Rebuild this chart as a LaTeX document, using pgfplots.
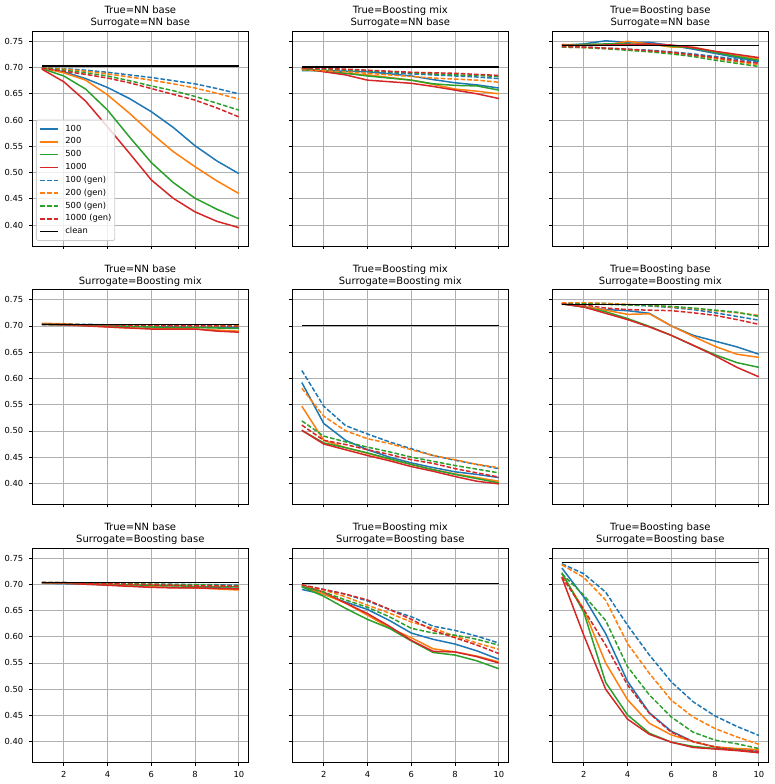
\documentclass[border=0pt]{standalone}
\usepackage{fontspec}
\setmainfont{DejaVu Sans}
\usepackage{pgfplots}
\usepackage{pgfplotstable}
\pgfplotsset{compat=1.18}
\definecolor{c0}{HTML}{1F77B4}
\definecolor{c1}{HTML}{FF7F0E}
\definecolor{c2}{HTML}{2CA02C}
\definecolor{c3}{HTML}{D62728}
\definecolor{gridgray}{HTML}{B0B0B0}
\definecolor{leggray}{HTML}{CCCCCC}

% True=NN base, Surrogate=NN base
\pgfplotstableread{
x s100 s200 s500 s1000 g100 g200 g500 g1000 clean
1 0.699 0.699 0.698 0.697 0.700 0.700 0.700 0.699 0.703
2 0.692 0.690 0.684 0.673 0.698 0.697 0.695 0.693 0.703
3 0.679 0.676 0.659 0.636 0.695 0.693 0.690 0.687 0.703
4 0.662 0.648 0.619 0.587 0.691 0.688 0.684 0.680 0.703
5 0.641 0.613 0.568 0.537 0.686 0.682 0.675 0.671 0.703
6 0.616 0.575 0.519 0.486 0.681 0.676 0.665 0.660 0.703
7 0.586 0.540 0.481 0.451 0.675 0.669 0.656 0.649 0.703
8 0.551 0.511 0.451 0.425 0.669 0.661 0.645 0.638 0.703
9 0.522 0.484 0.430 0.407 0.660 0.651 0.632 0.623 0.703
10 0.498 0.460 0.412 0.395 0.650 0.640 0.619 0.606 0.703
}\tA
% True=Boosting mix, Surrogate=NN base
\pgfplotstableread{
x s100 s200 s500 s1000 g100 g200 g500 g1000 clean
1 0.694 0.697 0.696 0.699 0.697 0.696 0.698 0.699 0.701
2 0.694 0.693 0.693 0.692 0.696 0.694 0.697 0.698 0.701
3 0.693 0.689 0.689 0.686 0.694 0.692 0.696 0.697 0.701
4 0.692 0.686 0.684 0.676 0.692 0.689 0.694 0.695 0.701
5 0.688 0.681 0.680 0.673 0.690 0.686 0.692 0.693 0.701
6 0.684 0.676 0.676 0.670 0.688 0.683 0.690 0.691 0.701
7 0.677 0.668 0.669 0.664 0.686 0.680 0.688 0.690 0.701
8 0.671 0.659 0.666 0.657 0.684 0.678 0.686 0.689 0.701
9 0.667 0.655 0.665 0.650 0.682 0.676 0.685 0.687 0.701
10 0.661 0.650 0.657 0.641 0.679 0.672 0.683 0.685 0.701
}\tB
% True=Boosting base, Surrogate=NN base
\pgfplotstableread{
x s100 s200 s500 s1000 g100 g200 g500 g1000 clean
1 0.742 0.744 0.743 0.743 0.740 0.739 0.739 0.740 0.742
2 0.745 0.743 0.744 0.742 0.739 0.738 0.738 0.739 0.742
3 0.751 0.743 0.745 0.743 0.737 0.736 0.736 0.737 0.742
4 0.748 0.750 0.745 0.744 0.735 0.734 0.733 0.735 0.742
5 0.748 0.745 0.744 0.745 0.733 0.731 0.730 0.732 0.742
6 0.742 0.739 0.741 0.743 0.730 0.728 0.726 0.729 0.742
7 0.735 0.739 0.737 0.738 0.726 0.723 0.721 0.724 0.742
8 0.727 0.730 0.729 0.731 0.721 0.717 0.714 0.719 0.742
9 0.719 0.723 0.721 0.725 0.716 0.711 0.708 0.713 0.742
10 0.712 0.717 0.714 0.719 0.710 0.705 0.702 0.708 0.742
}\tC
% True=NN base, Surrogate=Boosting mix
\pgfplotstableread{
x s100 s200 s500 s1000 g100 g200 g500 g1000 clean
1 0.703 0.705 0.703 0.703 0.703 0.703 0.703 0.703 0.703
2 0.702 0.704 0.702 0.702 0.703 0.703 0.703 0.703 0.703
3 0.701 0.701 0.701 0.700 0.703 0.702 0.702 0.702 0.703
4 0.700 0.698 0.700 0.698 0.702 0.702 0.702 0.702 0.703
5 0.699 0.696 0.699 0.696 0.702 0.702 0.701 0.701 0.703
6 0.698 0.695 0.698 0.694 0.702 0.701 0.701 0.701 0.703
7 0.698 0.695 0.697 0.694 0.701 0.701 0.701 0.700 0.703
8 0.697 0.694 0.697 0.694 0.701 0.701 0.700 0.700 0.703
9 0.697 0.692 0.696 0.690 0.701 0.700 0.700 0.700 0.703
10 0.697 0.690 0.695 0.688 0.700 0.700 0.699 0.699 0.703
}\tD
% True=Boosting mix, Surrogate=Boosting mix
\pgfplotstableread{
x s100 s200 s500 s1000 g100 g200 g500 g1000 clean
1 0.592 0.547 0.501 0.501 0.615 0.581 0.519 0.511 0.701
2 0.514 0.482 0.477 0.475 0.547 0.528 0.490 0.482 0.701
3 0.482 0.468 0.468 0.464 0.510 0.500 0.479 0.474 0.701
4 0.464 0.457 0.458 0.453 0.494 0.485 0.469 0.464 0.701
5 0.450 0.446 0.447 0.443 0.479 0.476 0.460 0.455 0.701
6 0.439 0.436 0.436 0.432 0.466 0.464 0.450 0.445 0.701
7 0.430 0.426 0.426 0.423 0.453 0.453 0.442 0.438 0.701
8 0.422 0.418 0.417 0.413 0.444 0.445 0.434 0.428 0.701
9 0.417 0.411 0.409 0.404 0.436 0.436 0.427 0.420 0.701
10 0.411 0.404 0.401 0.399 0.428 0.430 0.420 0.412 0.701
}\tE
% True=Boosting base, Surrogate=Boosting mix
\pgfplotstableread{
x s100 s200 s500 s1000 g100 g200 g500 g1000 clean
1 0.742 0.742 0.742 0.742 0.743 0.744 0.742 0.742 0.741
2 0.736 0.737 0.736 0.736 0.743 0.744 0.742 0.740 0.741
3 0.731 0.730 0.727 0.724 0.743 0.743 0.741 0.734 0.741
4 0.729 0.722 0.714 0.712 0.740 0.741 0.740 0.731 0.741
5 0.724 0.723 0.699 0.698 0.738 0.739 0.739 0.730 0.741
6 0.700 0.700 0.682 0.682 0.735 0.736 0.737 0.729 0.741
7 0.682 0.680 0.663 0.663 0.731 0.733 0.734 0.725 0.741
8 0.671 0.661 0.645 0.643 0.725 0.729 0.730 0.720 0.741
9 0.660 0.646 0.630 0.621 0.718 0.725 0.726 0.712 0.741
10 0.646 0.640 0.621 0.603 0.711 0.720 0.718 0.703 0.741
}\tF
% True=NN base, Surrogate=Boosting base
\pgfplotstableread{
x s100 s200 s500 s1000 g100 g200 g500 g1000 clean
1 0.702 0.703 0.703 0.703 0.703 0.703 0.703 0.703 0.703
2 0.701 0.702 0.702 0.702 0.703 0.703 0.703 0.703 0.703
3 0.700 0.701 0.701 0.700 0.702 0.702 0.702 0.702 0.703
4 0.699 0.699 0.700 0.698 0.702 0.701 0.702 0.701 0.703
5 0.697 0.697 0.699 0.696 0.701 0.700 0.701 0.700 0.703
6 0.695 0.695 0.698 0.694 0.700 0.700 0.700 0.699 0.703
7 0.694 0.694 0.697 0.693 0.700 0.699 0.699 0.698 0.703
8 0.693 0.693 0.696 0.693 0.699 0.698 0.699 0.697 0.703
9 0.693 0.691 0.695 0.692 0.699 0.697 0.698 0.697 0.703
10 0.692 0.689 0.695 0.691 0.698 0.697 0.697 0.696 0.703
}\tG
% True=Boosting mix, Surrogate=Boosting base
\pgfplotstableread{
x s100 s200 s500 s1000 g100 g200 g500 g1000 clean
1 0.690 0.696 0.695 0.698 0.697 0.698 0.695 0.699 0.701
2 0.681 0.681 0.677 0.685 0.690 0.689 0.685 0.690 0.701
3 0.666 0.664 0.654 0.664 0.681 0.676 0.670 0.681 0.701
4 0.652 0.641 0.633 0.644 0.668 0.660 0.656 0.670 0.701
5 0.631 0.617 0.616 0.620 0.652 0.645 0.638 0.652 0.701
6 0.607 0.598 0.592 0.593 0.638 0.628 0.616 0.633 0.701
7 0.595 0.577 0.570 0.572 0.620 0.616 0.607 0.612 0.701
8 0.586 0.571 0.565 0.571 0.612 0.601 0.603 0.598 0.701
9 0.573 0.563 0.554 0.562 0.601 0.588 0.595 0.584 0.701
10 0.557 0.552 0.539 0.550 0.588 0.576 0.584 0.568 0.701
}\tH
% True=Boosting base, Surrogate=Boosting base
\pgfplotstableread{
x s100 s200 s500 s1000 g100 g200 g500 g1000 clean
1 0.731 0.720 0.722 0.713 0.739 0.737 0.720 0.714 0.741
2 0.676 0.652 0.647 0.603 0.720 0.713 0.679 0.652 0.741
3 0.606 0.550 0.513 0.500 0.685 0.670 0.631 0.584 0.741
4 0.515 0.480 0.451 0.443 0.622 0.587 0.543 0.508 0.741
5 0.455 0.435 0.416 0.414 0.565 0.530 0.489 0.454 0.741
6 0.420 0.413 0.399 0.399 0.514 0.479 0.447 0.418 0.741
7 0.400 0.400 0.391 0.389 0.476 0.447 0.418 0.400 0.741
8 0.390 0.390 0.387 0.386 0.449 0.425 0.403 0.390 0.741
9 0.385 0.387 0.385 0.383 0.429 0.409 0.396 0.384 0.741
10 0.381 0.385 0.379 0.379 0.412 0.395 0.387 0.382 0.741
}\tI

\pgfplotsset{
  panel/.style={
    scale only axis, width=260pt, height=257.6pt,
    anchor=north west,
    xmin=0.55, xmax=10.45, ymin=0.360, ymax=0.769,
    xtick={2,4,6,8,10},
    ytick={0.40,0.45,0.50,0.55,0.60,0.65,0.70,0.75},
    tick pos=left, tick align=outside,
    major tick length=3.5pt,
    every tick/.style={black, line width=0.8pt},
    axis line style={black, line width=0.8pt},
    grid=major,
    major grid style={gridgray, line width=0.8pt},
    /pgf/number format/assume math mode=true,
    tick label style={font=\fontsize{10}{12}\selectfont},
    yticklabel style={xshift=-3.5pt, /pgf/number format/.cd, fixed, fixed zerofill, precision=2},
    xticklabel style={yshift=-3.5pt},
    scaled y ticks=false,
    title style={font=\fontsize{12}{14.4}\selectfont, align=center, at={(0.5,1)}, anchor=south, inner sep=0pt, yshift=-2pt},
  },
  noy/.style={yticklabels={}},
  nox/.style={xticklabels={}},
  sl/.style={line width=1.8pt, line join=round},
  dl/.style={line width=1.8pt, dash pattern=on 5.55pt off 2.4pt},
}

\newcommand\allplots[1]{%
  \addplot[c0, sl] table[x=x,y=s100]{#1};
  \addplot[c1, sl] table[x=x,y=s200]{#1};
  \addplot[c2, sl] table[x=x,y=s500]{#1};
  \addplot[c3, sl] table[x=x,y=s1000]{#1};
  \addplot[c0, dl] table[x=x,y=g100]{#1};
  \addplot[c1, dl] table[x=x,y=g200]{#1};
  \addplot[c2, dl] table[x=x,y=g500]{#1};
  \addplot[c3, dl] table[x=x,y=g1000]{#1};
  \addplot[black, sl] table[x=x,y=clean]{#1};
}

\begin{document}
\begin{tikzpicture}
% Row 1
\begin{axis}[panel, at={(0pt,0pt)}, nox,
  title={True=NN base\\Surrogate=NN base},
  legend cell align=left,
  legend image code/.code={\draw[#1] (0pt,0pt) -- (21pt,0pt);},
  legend style={at={(0,0)}, anchor=south west, xshift=4.8pt, yshift=6pt,
    draw=leggray, line width=1pt, fill=white, fill opacity=0.8, draw opacity=1, text opacity=1,
    rounded corners=2.4pt, font=\fontsize{10}{12}\selectfont,
    inner xsep=4pt, inner ysep=5.8pt, row sep=5.4pt, column sep=8pt,
    nodes={inner sep=0pt, text height=7.5pt, text depth=2.5pt}},
]
\allplots{\tA}
\legend{100,200,500,1000,100 (gen),200 (gen),500 (gen),1000 (gen),clean}
\end{axis}
\begin{axis}[panel, at={(312pt,0pt)}, nox, noy,
  title={True=Boosting mix\\Surrogate=NN base}]
\allplots{\tB}
\end{axis}
\begin{axis}[panel, at={(624pt,0pt)}, nox, noy,
  title={True=Boosting base\\Surrogate=NN base}]
\allplots{\tC}
\end{axis}
% Row 2
\begin{axis}[panel, at={(0pt,-310pt)}, nox,
  title={True=NN base\\Surrogate=Boosting mix}]
\allplots{\tD}
\end{axis}
\begin{axis}[panel, at={(312pt,-310pt)}, nox, noy,
  title={True=Boosting mix\\Surrogate=Boosting mix}]
\allplots{\tE}
\end{axis}
\begin{axis}[panel, at={(624pt,-310pt)}, nox, noy,
  title={True=Boosting base\\Surrogate=Boosting mix}]
\allplots{\tF}
\end{axis}
% Row 3
\begin{axis}[panel, at={(0pt,-620pt)},
  title={True=NN base\\Surrogate=Boosting base}]
\allplots{\tG}
\end{axis}
\begin{axis}[panel, at={(312pt,-620pt)}, noy,
  title={True=Boosting mix\\Surrogate=Boosting base}]
\allplots{\tH}
\end{axis}
\begin{axis}[panel, at={(624pt,-620pt)}, noy,
  title={True=Boosting base\\Surrogate=Boosting base}]
\allplots{\tI}
\end{axis}
\pgfresetboundingbox
\path[use as bounding box] (-38.4pt,37.6pt) rectangle (891.6pt,-903.2pt);
\end{tikzpicture}
\end{document}
